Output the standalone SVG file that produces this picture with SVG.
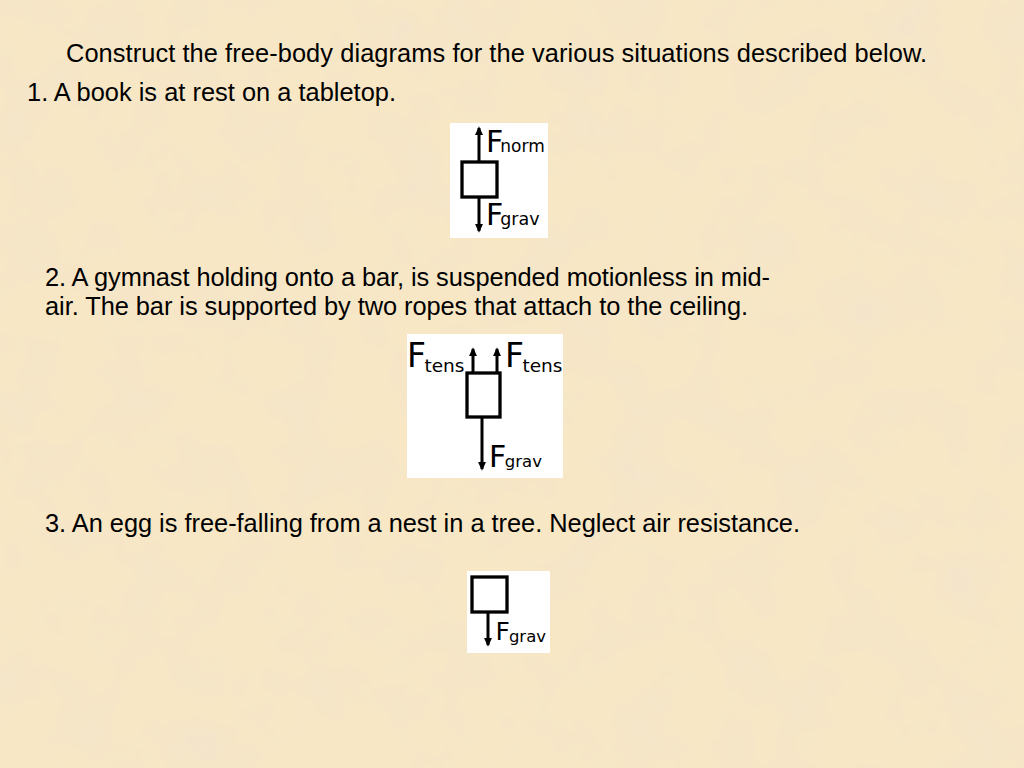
<svg xmlns="http://www.w3.org/2000/svg" width="1024" height="768" viewBox="0 0 1024 768">
<style>
.t{font-family:"Liberation Sans",Arial,sans-serif;font-size:25.4px;fill:#000}
.F{font-family:"DejaVu Sans","Liberation Sans",sans-serif;fill:#000}
.panel{fill:#fff}
.box{fill:#fff;stroke:#000;stroke-width:3.3}
.ar{stroke:#000;stroke-width:3;fill:none}
</style>
<defs>
<marker id="ah" markerUnits="userSpaceOnUse" markerWidth="9" markerHeight="9" viewBox="0 0 10 10" refX="8" refY="5" orient="auto">
<path d="M0,0.5 L10,5 L0,9.5 Z" fill="#000"/>
</marker>
<filter id="tex" x="0" y="0" width="100%" height="100%">
<feTurbulence type="fractalNoise" baseFrequency="0.018" numOctaves="4" seed="7"/>
<feColorMatrix type="matrix" values="0 0 0 0 0.90  0 0 0 0 0.78  0 0 0 0 0.60  1.8 0 0 0 -0.75"/>
</filter>
</defs>
<rect width="1024" height="768" fill="#F7E7C5"/>
<rect width="1024" height="768" filter="url(#tex)"/>

<g id="texts">
<text class="t" x="66" y="62" textLength="861" lengthAdjust="spacing">Construct the free-body diagrams for the various situations described below.</text>
<text class="t" x="27" y="101" textLength="369" lengthAdjust="spacing">1. A book is at rest on a tabletop.</text>
<text class="t" x="45" y="286" textLength="725" lengthAdjust="spacing">2. A gymnast holding onto a bar, is suspended motionless in mid-</text>
<text class="t" x="45" y="315" textLength="703" lengthAdjust="spacing">air. The bar is supported by two ropes that attach to the ceiling.</text>
<text class="t" x="45" y="532" textLength="755" lengthAdjust="spacing">3. An egg is free-falling from a nest in a tree. Neglect air resistance.</text>
</g>

<g id="diagram1">
<rect class="panel" x="450" y="123" width="98" height="115"/>
<rect id="book" class="box" x="462" y="162" width="35" height="35"/>
<text class="F" x="486" y="152" font-size="30">F<tspan font-size="17" dx="-3">norm</tspan></text>
<text class="F" x="486" y="225" font-size="30">F<tspan font-size="17.5" dx="-3">grav</tspan></text>
</g>

<g id="diagram2">
<rect class="panel" x="407" y="334" width="156" height="144"/>
<rect id="gymnast" class="box" x="467" y="373" width="33" height="44"/>
<text class="F" x="407" y="367" font-size="33">F<tspan font-size="18.5" dx="-1.5" dy="5">tens</tspan></text>
<text class="F" x="505" y="367" font-size="33">F<tspan font-size="18.5" dx="-1.5" dy="5">tens</tspan></text>
<text class="F" x="489" y="467" font-size="30">F<tspan font-size="16.5" dx="-1.5">grav</tspan></text>
</g>

<g id="diagram3">
<rect class="panel" x="467" y="571" width="83" height="82"/>
<rect id="egg" class="box" x="472" y="577" width="35" height="35"/>
<text class="F" x="495.5" y="640" font-size="25">F<tspan font-size="16.5" dx="-1" dy="2">grav</tspan></text>
</g>

<g id="connectors">
<line class="ar" x1="479" y1="162" x2="479" y2="128" marker-end="url(#ah)"/>
<line class="ar" x1="479" y1="197" x2="479" y2="231" marker-end="url(#ah)"/>
<line class="ar" x1="473" y1="373" x2="473" y2="349" marker-end="url(#ah)"/>
<line class="ar" x1="497" y1="373" x2="497" y2="349" marker-end="url(#ah)"/>
<line class="ar" x1="482" y1="417" x2="482" y2="469" marker-end="url(#ah)"/>
<line class="ar" x1="488" y1="612" x2="488" y2="645" marker-end="url(#ah)"/>
</g>
</svg>
